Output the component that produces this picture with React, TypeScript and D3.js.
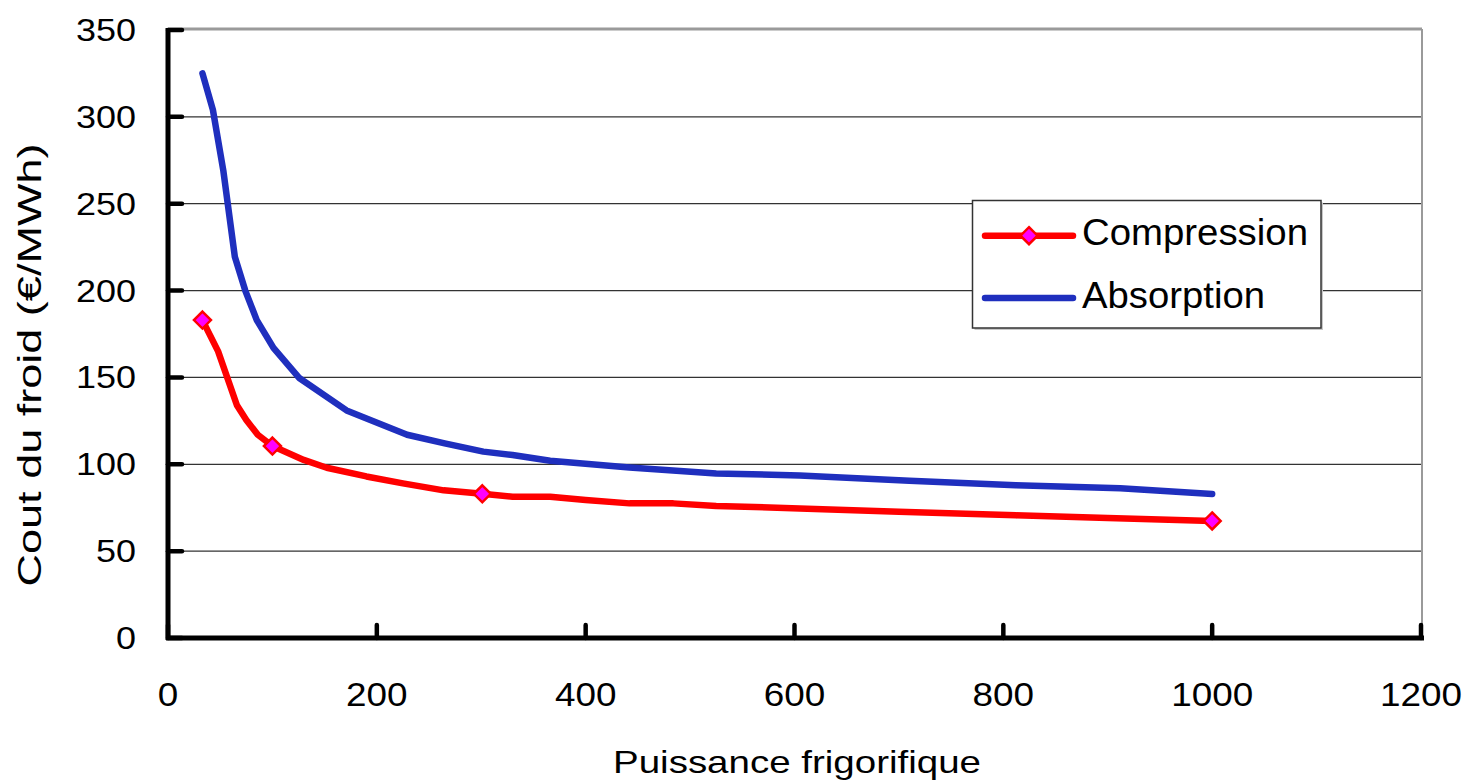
import React from "react";
import * as d3 from "d3";

const xTicks = [0, 200, 400, 600, 800, 1000, 1200];
const yTicks = [0, 50, 100, 150, 200, 250, 300, 350];

const compressionX = [33, 48, 66, 75, 86, 100, 130, 152, 190, 225, 264, 301, 330, 366, 400, 442, 484, 525, 605, 700, 812, 900, 1000];
const compressionY = [183, 165, 134, 125.5, 117, 110.5, 102.5, 98, 93, 89, 85, 83, 81.3, 81.3, 79.5, 77.5, 77.5, 76, 74.6, 72.7, 70.6, 69.1, 67.4];
const compressionMarkers = [33, 100, 301, 1000];

const absorptionX = [33, 43, 53, 64, 74, 85, 101, 126, 171, 229, 265, 302, 330, 366, 442, 525, 605, 710, 812, 912, 1000];
const absorptionY = [325, 304, 269, 219.5, 200, 183, 167, 149.5, 131, 117, 112, 107.3, 105.3, 102, 98.2, 94.7, 93.6, 90.5, 88, 86.2, 82.9];

const seriesNames = ["Compression", "Absorption"];
const xTitle = "Puissance frigorifique";
const yTitle = "Cout du froid (€/MWh)";

const FONT = "'Liberation Sans', Arial, sans-serif";
const RED = "#FF0000";
const BLUE = "#1F2FBE";
const MAGENTA = "#FF00FF";

export default function App() {
  const left = 168, right = 1421, top = 30, bottom = 638;
  const x = d3.scaleLinear().domain([0, 1200]).range([left, right]);
  const y = d3.scaleLinear().domain([0, 350]).range([bottom, top]);

  const line = d3.line<[number, number]>().x((d) => x(d[0])).y((d) => y(d[1]));
  const compPts: [number, number][] = compressionX.map((v, i) => [v, compressionY[i]]);
  const absPts: [number, number][] = absorptionX.map((v, i) => [v, absorptionY[i]]);
  const markerPts = compPts.filter((p) => compressionMarkers.includes(p[0]));

  const diamond = (cx: number, cy: number, r: number) =>
    `M${cx},${cy - r}L${cx + r},${cy}L${cx},${cy + r}L${cx - r},${cy}Z`;

  const lx1 = 985, lx2 = 1073, ly1 = 235.7, ly2 = 298;

  return (
    <svg width={1470} height={784} style={{ position: "absolute", left: 0, top: 0, background: "#fff" }} fontFamily={FONT}>
      <rect x={0} y={0} width={1470} height={784} fill="#fff" />
      {/* gridlines */}
      {yTicks.filter((t) => t > 0 && t < 350).map((t) => (
        <line key={"g" + t} x1={left} x2={right} y1={y(t)} y2={y(t)} stroke="#333" strokeWidth={1.3} />
      ))}
      {/* plot border top/right */}
      <line x1={left} x2={right + 1} y1={top - 1} y2={top - 1} stroke="#9a9a9a" strokeWidth={3} />
      <line x1={right + 1} x2={right + 1} y1={top - 1} y2={bottom} stroke="#9a9a9a" strokeWidth={2} />

      {/* lines */}
      <path d={line(absPts) || ""} fill="none" stroke={BLUE} strokeWidth={6.5} strokeLinejoin="round" strokeLinecap="round" />
      <path d={line(compPts) || ""} fill="none" stroke={RED} strokeWidth={6.5} strokeLinejoin="round" strokeLinecap="round" />
      {markerPts.map((p, i) => (
        <path key={"m" + i} d={diamond(x(p[0]), y(p[1]), 8.5)} fill={MAGENTA} stroke={RED} strokeWidth={2.5} strokeLinejoin="miter" />
      ))}

      {/* axes */}
      <line x1={left} x2={left} y1={top - 2} y2={bottom + 2} stroke="#000" strokeWidth={5} />
      <line x1={left - 2} x2={right + 3} y1={bottom} y2={bottom} stroke="#000" strokeWidth={5} />
      {yTicks.map((t) => (
        <line key={"yt" + t} x1={left} x2={left + 14} y1={y(t)} y2={y(t)} stroke="#000" strokeWidth={4.5} strokeLinecap="round" />
      ))}
      {xTicks.map((t) => (
        <line key={"xt" + t} x1={x(t)} x2={x(t)} y1={bottom} y2={bottom - 13} stroke="#000" strokeWidth={4.5} strokeLinecap="round" />
      ))}

      {/* tick labels */}
      {yTicks.map((t) => {
        const s = String(t);
        return (
          <text key={"yl" + t} x={136} y={y(t) + 11} textAnchor="end" fontSize={32} fill="#000"
            textLength={s.length * 20} lengthAdjust="spacingAndGlyphs">{s}</text>
        );
      })}
      {xTicks.map((t) => {
        const s = String(t);
        return (
          <text key={"xl" + t} x={x(t)} y={706} textAnchor="middle" fontSize={33} fill="#000"
            textLength={s.length * 20.5} lengthAdjust="spacingAndGlyphs">{s}</text>
        );
      })}

      {/* axis titles */}
      <text x={797} y={773} textAnchor="middle" fontSize={32} fill="#000" textLength={368} lengthAdjust="spacingAndGlyphs">{xTitle}</text>
      <text transform="translate(41,365) rotate(-90)" textAnchor="middle" fontSize={33} fill="#000" textLength={443} lengthAdjust="spacingAndGlyphs">{yTitle}</text>

      {/* legend */}
      <rect x={974.5} y={202.5} width={348.5} height={127.5} fill="#c8c8c8" />
      <rect x={972.5} y={200.5} width={348.5} height={127.5} fill="#fff" stroke="#333" strokeWidth={1.5} />
      <line x1={lx1} x2={lx2} y1={ly1} y2={ly1} stroke={RED} strokeWidth={6.5} strokeLinecap="round" />
      <path d={diamond((lx1 + lx2) / 2, ly1, 8.5)} fill={MAGENTA} stroke={RED} strokeWidth={2.5} />
      <line x1={lx1} x2={lx2} y1={ly2} y2={ly2} stroke={BLUE} strokeWidth={6.5} strokeLinecap="round" />
      <text x={1082} y={245} fontSize={37} fill="#000" textLength={226} lengthAdjust="spacingAndGlyphs">{seriesNames[0]}</text>
      <text x={1082} y={308} fontSize={37} fill="#000" textLength={183} lengthAdjust="spacingAndGlyphs">{seriesNames[1]}</text>
    </svg>
  );
}
